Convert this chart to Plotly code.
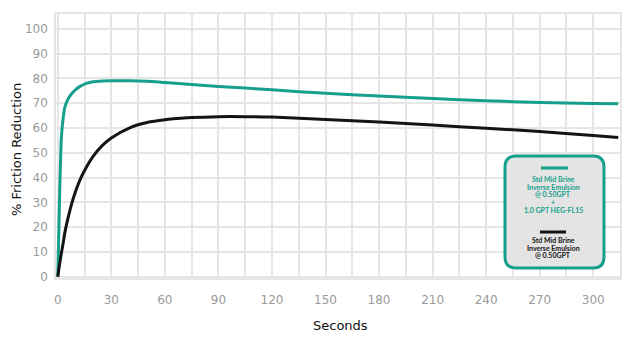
import plotly.graph_objects as go

# ---- data ----
time_s = [0, 1, 2, 3, 4, 6, 8, 10, 13, 16, 20, 25, 30, 40, 50, 60, 75, 90, 105, 120,
          150, 180, 210, 240, 270, 300, 314]
fr_teal = [0, 32, 56, 64, 68.5, 72, 74, 75.5, 77, 78, 78.7, 79, 79.1, 79.1, 78.9, 78.4,
           77.6, 76.8, 76.1, 75.4, 74.0, 72.9, 71.9, 71.0, 70.3, 69.9, 69.8]
fr_black = [0, 5, 9.5, 13.5, 18, 24.5, 30, 34.5, 40, 44.2, 48.8, 53, 56, 60, 62.2, 63.3,
            64.2, 64.6, 64.6, 64.4, 63.4, 62.4, 61.2, 59.9, 58.6, 57.0, 56.2]
x_ticks = [0, 30, 60, 90, 120, 150, 180, 210, 240, 270, 300]
y_ticks = [0, 10, 20, 30, 40, 50, 60, 70, 80, 90, 100]
x_title = "Seconds"
y_title = "% Friction Reduction"
teal_label = ["Std Mid Brine", "Inverse Emulsion", "@ 0.50GPT", "+", "1.0 GPT HEG-FL15"]
black_label = ["Std Mid Brine", "Inverse Emulsion", "@ 0.50GPT"]

TEAL = "#16a08c"
BLACK = "#141414"
GRID = "#e6e6e6"

W, H = 635, 337
ML, MR, MT, MB = 56, 15, 14, 59
PW, PH = W - ML - MR, H - MT - MB

fig = go.Figure()
fig.add_trace(go.Scatter(x=time_s, y=fr_teal, mode="lines",
                         line=dict(color=TEAL, width=3, shape="spline", smoothing=0.6),
                         showlegend=False, hoverinfo="skip"))
fig.add_trace(go.Scatter(x=time_s, y=fr_black, mode="lines",
                         line=dict(color=BLACK, width=3, shape="spline", smoothing=0.6),
                         showlegend=False, hoverinfo="skip"))


def px_x(px):
    return (px - ML) / PW


def px_y(py):
    return (H - MB - py) / PH


# legend box (rounded rectangle)
bx0, bx1, by0, by1 = px_x(505), px_x(604), px_y(268), px_y(156)
rx, ry = 11 / PW, 11 / PH
path = (f"M {bx0+rx},{by0} L {bx1-rx},{by0} Q {bx1},{by0} {bx1},{by0+ry} "
        f"L {bx1},{by1-ry} Q {bx1},{by1} {bx1-rx},{by1} L {bx0+rx},{by1} "
        f"Q {bx0},{by1} {bx0},{by1-ry} L {bx0},{by0+ry} Q {bx0},{by0} {bx0+rx},{by0} Z")
shapes = [dict(type="path", xref="paper", yref="paper", path=path,
               fillcolor="#e4e4e4", line=dict(color=TEAL, width=3), layer="above")]
shapes.append(dict(type="line", xref="paper", yref="paper", x0=px_x(541), x1=px_x(568),
                   y0=px_y(168), y1=px_y(168), line=dict(color=TEAL, width=3), layer="above"))
shapes.append(dict(type="line", xref="paper", yref="paper", x0=px_x(540), x1=px_x(566),
                   y0=px_y(232), y1=px_y(232), line=dict(color=BLACK, width=3), layer="above"))

annotations = []
cx = px_x(553)
for i, t in enumerate(teal_label):
    annotations.append(dict(x=cx, y=px_y(179 + 7.7 * i), xref="paper", yref="paper",
                            xanchor="center", yanchor="middle",
                            text=f"<b>{t}</b>", showarrow=False,
                            font=dict(family="Lato", size=7, color=TEAL)))
for i, t in enumerate(black_label):
    annotations.append(dict(x=cx, y=px_y(240 + 7.7 * i), xref="paper", yref="paper",
                            xanchor="center", yanchor="middle",
                            text=f"<b>{t}</b>", showarrow=False,
                            font=dict(family="Lato", size=7, color=BLACK)))
# axis titles
annotations.append(dict(x=px_x(340), y=px_y(325), xref="paper", yref="paper",
                        xanchor="center", yanchor="middle", text=x_title, showarrow=False,
                        font=dict(family="DejaVu Sans", size=13, color="#111")))
annotations.append(dict(x=px_x(16), y=px_y(150), xref="paper", yref="paper",
                        xanchor="center", yanchor="middle", text=y_title, showarrow=False,
                        textangle=-90,
                        font=dict(family="DejaVu Sans", size=13, color="#111")))

fig.update_layout(
    width=W, height=H,
    margin=dict(l=ML, r=MR, t=MT, b=MB, autoexpand=False),
    paper_bgcolor="white", plot_bgcolor="white",
    shapes=shapes, annotations=annotations,
    xaxis=dict(range=[-1, 315], tickvals=x_ticks, ticktext=[str(v) for v in x_ticks],
               automargin=False,
               showgrid=True, gridcolor=GRID, gridwidth=1.5, zeroline=False,
               minor=dict(dtick=15, tick0=0, showgrid=True, gridcolor=GRID, gridwidth=1.5),
               showline=True, mirror=True, linecolor=GRID, linewidth=1.5,
               ticks="", ticklabelstandoff=10,
               tickfont=dict(family="DejaVu Sans", size=12, color="#9a9a9a")),
    yaxis=dict(range=[-0.5, 106], tickvals=y_ticks, ticktext=[str(v) for v in y_ticks],
               automargin=False,
               showgrid=True, gridcolor=GRID, gridwidth=1.5, zeroline=False,
               showline=True, mirror=True, linecolor=GRID, linewidth=1.5,
               ticks="", ticklabelstandoff=4,
               tickfont=dict(family="DejaVu Sans", size=12, color="#9a9a9a")),
)

fig.write_html("out.html")
